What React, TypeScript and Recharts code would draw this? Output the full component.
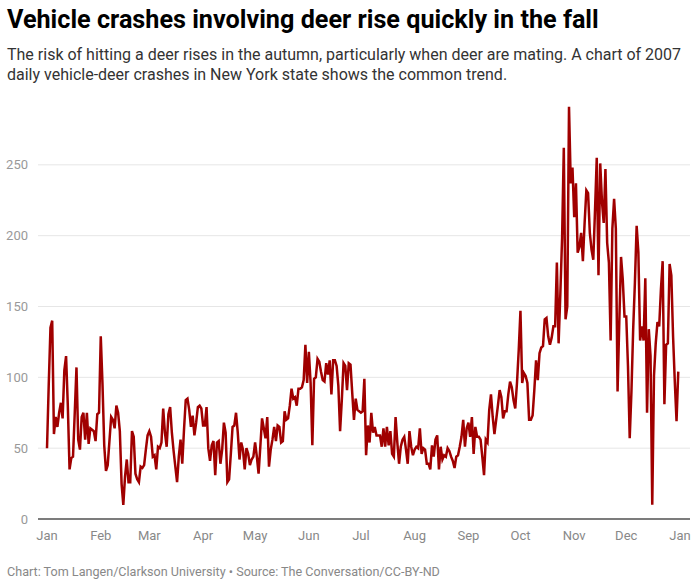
import React from "react";
import { LineChart, Line, XAxis, YAxis, CartesianGrid } from "recharts";

const JAN = [50,95,135,140,60,72,65,75,82,71,105,115,80,35,43,44,75,107,56,49,72,75,56,75,53,64,63,62,55,74,75];
const FEB = [129,95,52,34,38,55,72,70,64,80,75,62,25,10,30,42,26,26,62,58,32,28,26,37,36,38,49,59];
const MAR = [62,58,44,45,35,51,50,54,78,61,51,74,79,61,48,37,26,44,56,39,63,84,85,77,65,73,59,68,79,80,78];
const APR = [66,66,79,50,41,52,55,31,54,55,39,49,68,61,26,28,46,65,66,75,61,42,54,49,35,50,46,38,42,44];
const MAY = [54,44,32,51,71,64,57,72,37,49,56,65,55,66,65,54,55,76,70,71,80,92,85,86,80,92,92,93,98,123,96];
const JUN = [118,96,52,99,100,113,111,104,98,97,110,102,112,88,112,112,108,94,62,84,110,108,91,110,109,89,70,85,77,76];
const JUL = [75,76,99,45,66,54,75,61,65,59,59,59,51,64,51,65,52,62,46,44,72,54,39,51,56,58,49,39,62,51,45];
const AUG = [49,51,50,64,46,50,49,39,39,35,52,44,56,59,35,51,42,45,44,50,48,44,41,36,44,45,51,58,70,51,64];
const SEP = [68,58,72,46,65,58,58,56,44,31,56,54,77,88,72,60,70,80,91,86,71,76,76,88,97,93,84,78,96,119];
const OCT = [147,96,103,101,96,70,70,73,91,112,98,117,121,122,141,142,129,123,128,136,136,181,124,159,198,262,141,150,291,237,248];
const NOV = [213,237,188,192,202,182,209,232,230,202,190,183,218,255,172,251,224,209,247,195,181,126,205,226,205,90,139,185,169,143];
const DEC = [143,108,57,90,134,167,207,188,126,136,126,170,75,134,115,10,101,124,139,136,162,182,81,123,124,180,172,129,97,69,104];

const MONTH_LABELS = ["Jan","Feb","Mar","Apr","May","Jun","Jul","Aug","Sep","Oct","Nov","Dec","Jan"];
const MONTH_STARTS = [0,31,59,90,120,151,181,212,243,273,304,334,365];
const Y_TICKS = [0,50,100,150,200,250];

const ALL = [JAN,FEB,MAR,APR,MAY,JUN,JUL,AUG,SEP,OCT,NOV,DEC].flat();
const data = ALL.map((v, i) => ({ day: i, crashes: v }));

const FONT = "Roboto, 'Noto Sans', sans-serif";

export default function App() {
  return (
    <div style={{ position: "absolute", left: 0, top: 0, width: 700, height: 586, background: "#fff", fontFamily: FONT, overflow: "hidden" }}>
      <div style={{ position: "absolute", left: 0, top: 0 }}>
        <LineChart width={700} height={586} data={data} margin={{ top: 94, right: 10, bottom: 37, left: 0 }}>
          <CartesianGrid vertical={false} stroke="#e6e6e6" syncWithTicks />
          <XAxis
            dataKey="day"
            type="number"
            domain={[0, 365]}
            ticks={MONTH_STARTS}
            tickFormatter={(v: number) => MONTH_LABELS[MONTH_STARTS.indexOf(v)]}
            padding={{ left: 9, right: 10 }}
            height={30}
            tickLine={false}
            tickSize={0}
            tickMargin={12}
            axisLine={{ stroke: "#555", strokeWidth: 1.5 }}
            tick={{ fill: "#888", fontSize: 13, fontFamily: FONT }}
            interval={0}
          />
          <YAxis
            domain={[0, 300]}
            ticks={Y_TICKS}
            width={38}
            tickLine={false}
            tickSize={0}
            tickMargin={10}
            axisLine={false}
            tick={{ fill: "#999", fontSize: 13, fontFamily: FONT }}
          />
          <Line type="linear" dataKey="crashes" stroke="#a00000" strokeWidth={2.5} dot={false} isAnimationActive={false} />
        </LineChart>
      </div>
      <div style={{ position: "absolute", left: 7, top: 6, fontSize: 25.2, lineHeight: "28px", fontWeight: 700, color: "#000", whiteSpace: "nowrap" }}>
        Vehicle crashes involving deer rise quickly in the fall
      </div>
      <div style={{ position: "absolute", left: 7, top: 45, width: 688, fontSize: 16, lineHeight: "19.5px", color: "#333" }}>
        The risk of hitting a deer rises in the autumn, particularly when deer are mating. A chart of 2007
        <br />
        daily vehicle-deer crashes in New York state shows the common trend.
      </div>
      <div style={{ position: "absolute", left: 7, top: 564, fontSize: 12.6, lineHeight: "15px", color: "#888", whiteSpace: "nowrap" }}>
        Chart: Tom Langen/Clarkson University • Source: The Conversation/CC-BY-ND
      </div>
    </div>
  );
}
